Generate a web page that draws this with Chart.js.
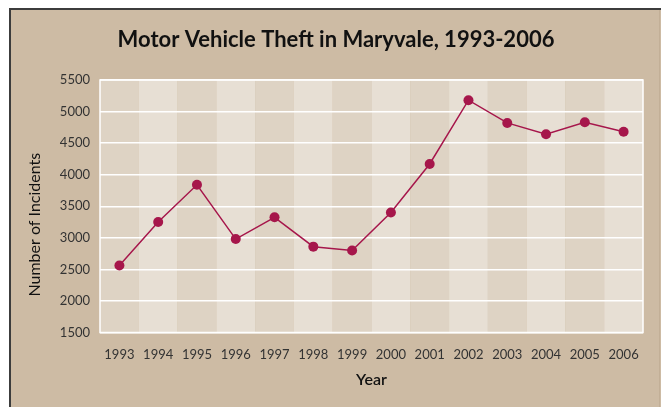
<!DOCTYPE html>
<html>
<head>
<meta charset="utf-8">
<script src="https://cdn.jsdelivr.net/npm/chart.js@4.4.1/dist/chart.umd.min.js"></script>
<style>
  html, body { margin: 0; padding: 0; background: #ffffff; }
  #wrap { position: relative; width: 661px; height: 407px; overflow: hidden; }
  #frame { position: absolute; left: 9px; top: 8px; width: 660px; height: 410px;
           background: #CDBBA4; border-left: 2px solid #3c3c3c; border-top: 2px solid #3c3c3c; }
  #edge { position: absolute; left: 659px; top: 10px; width: 1px; height: 400px; background: #c2af97; }
  canvas { position: absolute; left: 0; top: 0; }
</style>
</head>
<body>
<div id="wrap">
  <div id="frame"></div>
  <div id="edge"></div>
  <canvas id="c" width="661" height="407"></canvas>
</div>
<script>
const titleText = "Motor Vehicle Theft in Maryvale, 1993-2006";
const years = ["1993","1994","1995","1996","1997","1998","1999","2000","2001","2002","2003","2004","2005","2006"];
const incidents = [2560, 3250, 3840, 2980, 3325, 2860, 2800, 3400, 4170, 5180, 4820, 4640, 4830, 4680];
const yTicks = [1500, 2000, 2500, 3000, 3500, 4000, 4500, 5000, 5500];
const xTitle = "Year";
const yTitle = "Number of Incidents";

const lineColor = "#A6164B";
const bandDark = "#DED3C4";
const bandLight = "#E7DFD4";
const fontFam = "Lato, 'Open Sans', sans-serif";

const bandsPlugin = {
  id: 'bands',
  beforeDraw(chart) {
    const {ctx, chartArea, scales} = chart;
    const xs = scales.x;
    const n = years.length;
    const w = (chartArea.right - chartArea.left) / n;
    ctx.save();
    for (let i = 0; i < n; i++) {
      const cx = xs.getPixelForValue(i);
      ctx.fillStyle = (i % 2 === 0) ? bandDark : bandLight;
      ctx.fillRect(cx - w / 2, chartArea.top, w, chartArea.bottom - chartArea.top);
    }
    ctx.restore();
  },
  beforeDatasetsDraw(chart) {
    const {ctx, chartArea} = chart;
    ctx.save();
    ctx.strokeStyle = "#ffffff";
    ctx.lineWidth = 1.5;
    ctx.strokeRect(chartArea.left, chartArea.top, chartArea.right - chartArea.left, chartArea.bottom - chartArea.top);
    ctx.restore();
  }
};

new Chart(document.getElementById('c'), {
  type: 'line',
  data: {
    labels: years,
    datasets: [{
      data: incidents,
      borderColor: lineColor,
      backgroundColor: lineColor,
      borderWidth: 1.5,
      pointRadius: 5,
      pointBorderWidth: 0,
      pointBackgroundColor: lineColor,
      tension: 0,
      fill: false
    }]
  },
  options: {
    responsive: false,
    animation: false,
    devicePixelRatio: 1,
    layout: { padding: { left: 29, right: 18, top: 0, bottom: 0 } },
    plugins: {
      legend: { display: false },
      tooltip: { enabled: false },
      title: {
        display: true,
        text: titleText,
        color: "#111111",
        font: { family: fontFam, size: 22, weight: '700', lineHeight: 1.2 },
        padding: { top: 27, bottom: 26.6 }
      }
    },
    scales: {
      x: {
        type: 'category',
        offset: true,
        grid: { display: false, drawTicks: false },
        border: { display: false },
        ticks: { color: "#333333", font: { family: fontFam, size: 13 }, padding: 15, maxRotation: 0, autoSkip: false },
        title: { display: true, text: xTitle, color: "#111111",
                 font: { family: fontFam, size: 16, weight: '600', lineHeight: 1.2 },
                 padding: { top: 0, bottom: 17.4 } },
        afterFit(s) { s.height = 74.5; }
      },
      y: {
        min: 1500,
        max: 5500,
        afterBuildTicks(s) { s.ticks = yTicks.map(v => ({ value: v })); },
        grid: { color: "#ffffff", lineWidth: 1.5, drawTicks: false },
        border: { display: false },
        ticks: { color: "#333333", font: { family: fontFam, size: 13 }, padding: 10,
                 callback: (v) => String(v) },
        title: { display: true, text: yTitle + "         ", color: "#111111",
                 font: { family: fontFam, size: 16, weight: '400', lineHeight: 1 },
                 padding: { top: -2, bottom: 0 } },
        afterFit(s) { s.width = 71; }
      }
    }
  },
  plugins: [bandsPlugin]
});
</script>
</body>
</html>
